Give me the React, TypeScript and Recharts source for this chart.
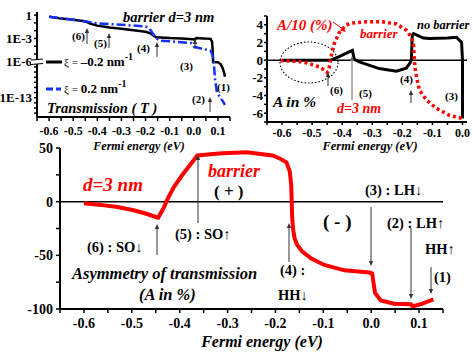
import React from 'react';
import { LineChart, Line, XAxis, YAxis, ReferenceLine } from 'recharts';

const SERIF = '"Liberation Serif", "Times New Roman", serif';

// ---------- Main panel: asymmetry of transmission A (%), barrier d = 3 nm
const mainEnergy = [-0.6, -0.565, -0.53, -0.496, -0.468, -0.445, -0.433, -0.426, -0.413, -0.395, -0.374, -0.363, -0.353, -0.33, -0.311, -0.26, -0.206, -0.19, -0.177, -0.17, -0.167, -0.166, -0.165, -0.163, -0.16, -0.155, -0.145, -0.125, -0.098, -0.056, -0.004, 0.002, 0.005, 0.008, 0.02, 0.048, 0.083, 0.087, 0.09, 0.104, 0.13];
const mainAsym = [-1.5, -3, -5, -8, -11.5, -15, -5.5, 2, 13, 24.6, 36.7, 43, 43.5, 44.5, 45, 46, 43, 40, 36.7, 28, 15, 0, -15, -26, -34, -40, -46, -53, -59, -64, -66, -67, -76, -85, -92, -95, -95.5, -98, -97, -95.5, -91];
const mainXTicks = [-0.65, -0.6, -0.55, -0.5, -0.45, -0.4, -0.35, -0.3, -0.25, -0.2, -0.15, -0.1, -0.05, 0, 0.05, 0.1, 0.15];
const mainYTicks = [-100, -75, -50, -25, 0, 25, 50];

// ---------- Top-left panel: transmission T (log10 values), xi = -0.2 and +0.2 nm^-1
const tEnergyNeg = [-0.6, -0.55, -0.5, -0.46, -0.447, -0.43, -0.4, -0.35, -0.3, -0.25, -0.2, -0.18, -0.17, -0.156, -0.1, -0.05, -0.004, 0.004, 0.01, 0.04, 0.07, 0.076, 0.078, 0.08, 0.1, 0.112, 0.12, 0.126, 0.129];
const tLogNeg = [-0.2, -0.45, -0.6, -0.75, -0.85, -1.1, -1.35, -1.6, -1.75, -1.95, -2.15, -2.35, -2.6, -2.85, -2.95, -3.0, -3.1, -3.15, -2.95, -3.0, -3.05, -3.5, -4.5, -6.05, -6.1, -6.5, -7.3, -8.2, -8.9];
const tEnergyPos = [-0.6, -0.5, -0.45, -0.43, -0.4, -0.35, -0.3, -0.25, -0.2, -0.185, -0.175, -0.165, -0.155, -0.14, -0.1, -0.05, -0.01, 0.0, 0.03, 0.06, 0.07, 0.078, 0.082, 0.085, 0.088, 0.096, 0.11, 0.122, 0.129];
const tLogPos = [-0.2, -0.6, -0.8, -0.9, -1.05, -1.15, -1.25, -1.35, -1.45, -1.7, -2.1, -2.6, -3.0, -3.3, -3.35, -3.5, -3.6, -4.05, -4.3, -4.5, -4.6, -5.2, -5.8, -7.5, -9.5, -12.0, -13.0, -13.8, -14.4];
const tMajorLogs = [0, -3, -6, -13];
const tMajorLabels = ['1', '1E-3', '1E-6', '1E-13'];
const tMinorLogs = [-1, -2, -4, -5, -7, -8, -9, -10, -11, -12, -14, -15, -16];
const smallXTicks = [-0.65, -0.6, -0.55, -0.5, -0.45, -0.4, -0.35, -0.3, -0.25, -0.2, -0.15, -0.1, -0.05, 0, 0.05, 0.1, 0.15];

// ---------- Top-right panel: A in %, barrier (A/10) and no barrier
const aEnergyBarrier = [-0.605, -0.58, -0.544, -0.52, -0.5, -0.477, -0.46, -0.45, -0.445, -0.437, -0.426, -0.41, -0.387, -0.365, -0.32, -0.267, -0.22, -0.187, -0.17, -0.163, -0.161, -0.158, -0.153, -0.143, -0.12, -0.087, -0.043, 0.0];
const aBarrier = [-0.05, -0.1, -0.15, -0.3, -0.5, -0.75, -1.1, -1.4, -1.2, 0.4, 1.9, 3.1, 4.0, 4.2, 4.35, 4.35, 4.1, 3.4, 2.6, 1.8, 0.5, -0.8, -1.9, -3.4, -4.5, -5.45, -6.25, -6.6];
const aEnergyNoBarrier = [-0.6, -0.44, -0.432, -0.41, -0.377, -0.366, -0.36, -0.343, -0.277, -0.22, -0.187, -0.174, -0.17, -0.167, -0.163, -0.13, -0.11, -0.05, -0.02, -0.003, 0.0, 0.0];
const aNoBarrier = [0, 0, 0.1, 0.4, 0.94, 1.1, 0.1, -0.2, -0.95, -1.25, -0.9, -0.3, 0, 2.85, 3.0, 2.5, 2.45, 2.5, 2.6, 2.0, 0, -6.6];
const aXTicks = [-0.65, -0.6, -0.55, -0.5, -0.45, -0.4, -0.35, -0.3, -0.25, -0.2, -0.15, -0.1, -0.05, 0];
const aYTicks = [-7, -6, -5, -4, -3, -2, -1, 0, 1, 2, 3, 4, 5];

// axis break below 1E-6 in the transmission panel (compressed decades)
const BREAK_AT = -6;
const BREAK_FACTOR = 0.66;
const brk = (v: number) => (v >= BREAK_AT ? v : BREAK_AT + (v - BREAK_AT) * BREAK_FACTOR);

const zip = (xs: number[], ys: number[], f: (v: number) => number = (v) => v) =>
  xs.map((x, i) => ({ x, y: f(ys[i]) }));

const mainData = zip(mainEnergy, mainAsym);
const negData = zip(tEnergyNeg, tLogNeg, brk);
const posData = zip(tEnergyPos, tLogPos, brk);
const barrierData = zip(aEnergyBarrier, aBarrier);
const noBarrierData = zip(aEnergyNoBarrier, aNoBarrier);

const tYTicks = [...tMajorLogs, ...tMinorLogs].map(brk).sort((a, b) => a - b);

const fmtX = (v: number) => {
  const r = Math.round(v * 20);
  if (r % 2 !== 0) return '';
  const s = (r / 20).toFixed(1);
  return s === '-0.0' ? '0.0' : s;
};
const fmtTY = (v: number) => {
  const i = tMajorLogs.findIndex((m) => Math.abs(brk(m) - v) < 1e-6);
  return i >= 0 ? tMajorLabels[i] : '';
};

const tickStyle = (size: number) => ({ fill: '#000', fontSize: size, fontWeight: 'bold', fontFamily: SERIF });
const axisLine = { stroke: '#000', strokeWidth: 2 };
const tickLine = { stroke: '#000', strokeWidth: 1.5 };

const Arrow = ({ x, from, to, color = '#333', w = 1 }: { x: number; from: number; to: number; color?: string; w?: number }) => {
  const dir = to < from ? -1 : 1;
  const h = 5;
  const hw = 2.2;
  return (
    <g>
      <line x1={x} y1={from} x2={x} y2={to - dir * h * 0.7} stroke={color} strokeWidth={w} />
      <polygon points={`${x},${to} ${x - hw},${to - dir * h} ${x + hw},${to - dir * h}`} fill={color} />
    </g>
  );
};

const T = ({ x, y, size, color = '#000', italic = false, anchor = 'start', children }: any) => (
  <text x={x} y={y} fontSize={size} fill={color} fontWeight="bold" fontStyle={italic ? 'italic' : 'normal'} fontFamily={SERIF} textAnchor={anchor}>
    {children}
  </text>
);

const RED = '#ff0000';
const BLUE = '#1430ff';

export default function App() {
  return (
    <div style={{ position: 'absolute', left: 0, top: 0, width: 473, height: 355, background: '#fff', fontFamily: SERIF, overflow: 'hidden' }}>
      {/* Top-left: transmission */}
      <div style={{ position: 'absolute', left: 0, top: 0 }}>
        <LineChart width={240} height={155} margin={{ top: 12, right: 10, bottom: 16, left: 0 }}>
          <XAxis type="number" dataKey="x" domain={[-0.65, 0.15]} ticks={smallXTicks} interval={0} tickFormatter={fmtX}
            axisLine={axisLine} tickLine={tickLine} tickSize={4} tickMargin={5} tick={tickStyle(12)} height={22} allowDataOverflow />
          <YAxis type="number" domain={[-13.1, 0.4]} ticks={tYTicks} interval={0} tickFormatter={fmtTY}
            axisLine={axisLine} tickLine={tickLine} tickSize={3} tickMargin={2} tick={tickStyle(13)} width={37} allowDataOverflow />
          <Line data={negData} dataKey="y" type="linear" stroke="#000" strokeWidth={2.5} dot={false} isAnimationActive={false} />
          <Line data={posData} dataKey="y" type="linear" stroke={BLUE} strokeWidth={2.5} strokeDasharray="9 3 2 3" dot={false} isAnimationActive={false} />
        </LineChart>
      </div>

      {/* Top-right: asymmetry with / without barrier */}
      <div style={{ position: 'absolute', left: 235, top: 0 }}>
        <LineChart width={238} height={155} margin={{ top: 16, right: 6, bottom: 11, left: 0 }}>
          <XAxis type="number" dataKey="x" domain={[-0.65, 0.015]} ticks={aXTicks} interval={0} tickFormatter={fmtX}
            axisLine={axisLine} tickLine={tickLine} tickSize={3} tickMargin={3} tick={tickStyle(12)} height={22} allowDataOverflow />
          <YAxis type="number" domain={[-7, 5]} ticks={aYTicks} interval={0} tickFormatter={(v: number) => (v % 2 === 0 && v > -7 && v < 5 ? String(v) : '')}
            axisLine={axisLine} tickLine={tickLine} tickSize={3} tickMargin={1} tick={tickStyle(13)} width={32} allowDataOverflow />
          <ReferenceLine y={0} stroke="#000" strokeWidth={1.5} />
          <Line data={noBarrierData} dataKey="y" type="linear" stroke="#000" strokeWidth={3} dot={false} isAnimationActive={false} />
          <Line data={barrierData} dataKey="y" type="linear" stroke={RED} strokeWidth={3.5} strokeDasharray="3 3" dot={false} isAnimationActive={false} />
        </LineChart>
      </div>

      {/* Main panel */}
      <div style={{ position: 'absolute', left: 0, top: 130 }}>
        <LineChart width={473} height={225} margin={{ top: 18, right: 30, bottom: 16, left: 0 }}>
          <XAxis type="number" dataKey="x" domain={[-0.65, 0.15]} ticks={mainXTicks} interval={0} tickFormatter={fmtX}
            axisLine={axisLine} tickLine={tickLine} tickSize={4} tickMargin={5} tick={tickStyle(14)} height={30} allowDataOverflow />
          <YAxis type="number" domain={[-100, 50]} ticks={mainYTicks} interval={0} tickFormatter={(v: number) => (v % 50 === 0 ? String(v) : '')}
            axisLine={axisLine} tickLine={tickLine} tickSize={4} tickMargin={3} tick={tickStyle(14)} width={60} allowDataOverflow />
          <ReferenceLine y={0} stroke="#000" strokeWidth={1.5} />
          <Line data={mainData} dataKey="y" type="linear" stroke={RED} strokeWidth={4} dot={false} isAnimationActive={false} />
        </LineChart>
      </div>

      {/* Annotations */}
      <svg width={473} height={355} style={{ position: 'absolute', left: 0, top: 0, pointerEvents: 'none' }}>
        {/* top-left */}
        <T x={123} y={22} size={14.5} italic>barrier d=3 nm</T>
        <rect x={31} y={60} width={12} height={4} fill="#fff" />
        <line x1={31} y1={60} x2={43} y2={59} stroke="#000" strokeWidth={1.2} />
        <line x1={31} y1={64.5} x2={43} y2={63.5} stroke="#000" strokeWidth={1.2} />
        <line x1={46} y1={62} x2={62} y2={62} stroke="#000" strokeWidth={3} />
        <text x={64} y={66} fontFamily={SERIF} fontWeight="bold" fontSize={13}>
          <tspan fontSize={11} fontWeight="normal">ξ</tspan>
          <tspan fontSize={11} fontWeight="normal"> = </tspan>–0.2 nm<tspan dy={-6} fontSize={10}>-1</tspan>
        </text>
        <line x1={46} y1={89} x2={61} y2={89} stroke={BLUE} strokeWidth={3} strokeDasharray="7 3" />
        <text x={64} y={93} fontFamily={SERIF} fontWeight="bold" fontSize={13}>
          <tspan fontSize={11} fontWeight="normal">ξ</tspan>
          <tspan fontSize={11} fontWeight="normal"> =  </tspan> 0.2 nm<tspan dy={-6} fontSize={10}>-1</tspan>
        </text>
        <T x={47} y={113} size={14.5} italic>Transmission ( T )</T>
        <T x={72} y={40} size={11}>(6)</T>
        <Arrow x={87} from={44} to={28} />
        <T x={94} y={47} size={11}>(5)</T>
        <Arrow x={109} from={48} to={33} />
        <T x={137} y={52} size={11}>(4)</T>
        <Arrow x={157} from={57} to={42} />
        <T x={180} y={70} size={11}>(3)</T>
        <Arrow x={195} from={49} to={39} />
        <T x={192} y={103} size={11}>(2)</T>
        <Arrow x={210} from={112} to={97} />
        <T x={217} y={91} size={11}>(1)</T>
        <T x={139} y={150} size={12} italic anchor="middle">Fermi energy (eV)</T>

        {/* top-right */}
        <T x={277} y={30} size={15} italic color={RED}>A/10 (%)</T>
        <line x1={333} y1={22} x2={344} y2={30} stroke={RED} strokeWidth={1} />
        <polygon points="346,32 340,30.5 343,27" fill={RED} />
        <T x={360} y={38} size={13} italic color={RED}>barrier</T>
        <T x={417} y={29} size={12.5} italic>no barrier</T>
        <ellipse cx={309} cy={62.5} rx={29} ry={20.5} fill="none" stroke="#000" strokeWidth={1.1} strokeDasharray="1.5 2" />
        <T x={330} y={94} size={11}>(6)</T>
        <Arrow x={328} from={86} to={72} />
        <T x={359} y={97} size={11}>(5)</T>
        <Arrow x={352} from={100} to={56} color="#666" />
        <T x={400} y={83} size={11}>(4)</T>
        <Arrow x={411} from={103} to={90} />
        <T x={445} y={100} size={11}>(3)</T>
        <T x={273} y={107} size={15.5} italic>A in %</T>
        <T x={337} y={113} size={14} italic color={RED}>d=3 nm</T>
        <T x={370} y={150} size={12.5} italic anchor="middle">Fermi energy (eV)</T>

        {/* main */}
        <T x={83} y={191} size={19} italic color={RED}>d=3 nm</T>
        <T x={208} y={177} size={18} italic color={RED}>barrier</T>
        <T x={214} y={197} size={17}>( + )</T>
        <T x={87} y={252} size={14.5}>(6) : SO↓</T>
        <Arrow x={157} from={255} to={224} />
        <T x={175} y={239} size={14.5}>(5) : SO↑</T>
        <Arrow x={198} from={223} to={155} />
        <T x={72} y={279} size={16.5} italic>Asymmetry of transmission</T>
        <T x={139} y={300} size={16.5} italic>(A in %)</T>
        <T x={280} y={275} size={14.5}>(4) :</T>
        <T x={278} y={300} size={14.5}>HH↓</T>
        <Arrow x={289} from={262} to={223} />
        <T x={323} y={228} size={19}>( - )</T>
        <T x={365} y={195} size={14.5}>(3) : LH↓</T>
        <Arrow x={371} from={207} to={266} />
        <T x={387} y={228} size={14.5}>(2) : LH↑</T>
        <Arrow x={411} from={228} to={299} />
        <T x={425} y={254} size={14.5}>HH↑</T>
        <T x={434} y={282} size={14.5}>(1)</T>
        <Arrow x={431} from={267} to={294} />
        <T x={262} y={347} size={16} italic anchor="middle">Fermi energy (eV)</T>
      </svg>
    </div>
  );
}
